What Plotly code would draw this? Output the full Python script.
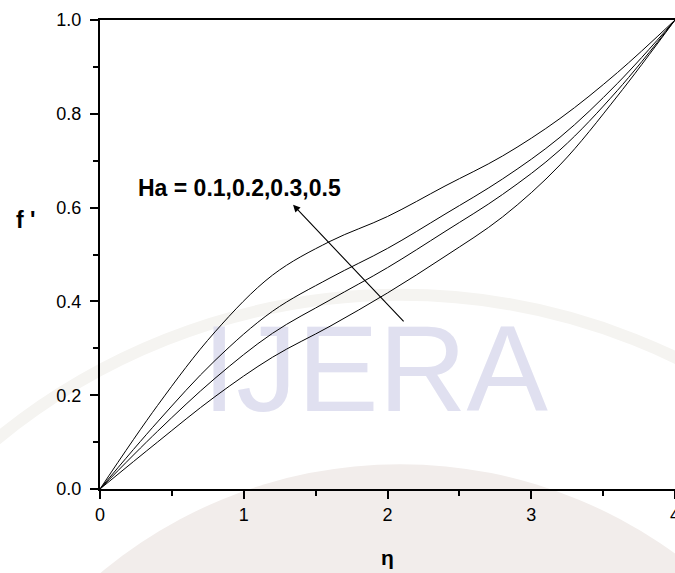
import plotly.graph_objects as go

# Similarity variable and velocity profiles f'(eta) for several Hartmann numbers
eta = [0.0, 0.4, 0.8, 1.2, 1.6, 2.0, 2.4, 2.8, 3.2, 3.6, 4.0]
f_ha_05 = [0.0, 0.178, 0.335, 0.456, 0.528, 0.581, 0.646, 0.710, 0.790, 0.888, 1.0]
f_ha_03 = [0.0, 0.143, 0.274, 0.379, 0.450, 0.513, 0.586, 0.661, 0.750, 0.865, 1.0]
f_ha_02 = [0.0, 0.123, 0.236, 0.332, 0.403, 0.472, 0.549, 0.628, 0.723, 0.850, 1.0]
f_ha_01 = [0.0, 0.100, 0.197, 0.281, 0.347, 0.418, 0.496, 0.580, 0.691, 0.838, 1.0]

profiles = [("Ha = 0.5", f_ha_05), ("Ha = 0.3", f_ha_03),
            ("Ha = 0.2", f_ha_02), ("Ha = 0.1", f_ha_01)]

x_ticks = [0, 1, 2, 3, 4]
y_ticks = [0.0, 0.2, 0.4, 0.6, 0.8, 1.0]
ha_label = "Ha = 0.1,0.2,0.3,0.5"

font_family = "Liberation Sans, Arial, sans-serif"

fig = go.Figure()

# journal watermark behind the curves
fig.add_trace(go.Scatter(
    x=[1.914], y=[0.232], mode="text", text=["IJERA"],
    textfont=dict(family=font_family, size=122, color="rgb(224,224,240)"),
    hoverinfo="skip", showlegend=False, cliponaxis=False,
))

for name, f in profiles:
    fig.add_trace(go.Scatter(
        x=eta, y=f, mode="lines", name=name,
        line=dict(color="black", width=1.0, shape="spline", smoothing=1.0),
        showlegend=False, cliponaxis=False,
    ))

# faint globe motif of the watermark
fig.add_shape(type="circle", xref="paper", yref="paper", layer="below",
              x0=-0.29, x1=1.334, y0=-1.938, y1=0.053,
              fillcolor="rgb(242,237,235)", line=dict(width=0))
fig.add_shape(type="circle", xref="paper", yref="paper", layer="below",
              x0=-0.584, x1=1.628, y0=-2.298, y1=0.414,
              fillcolor="rgba(0,0,0,0)", line=dict(color="rgb(245,244,241)", width=12))

axis_common = dict(
    showline=True, linecolor="black", linewidth=2,
    ticks="outside", tickcolor="black", tickwidth=1.5, ticklen=8,
    showgrid=False, zeroline=False,
    tickfont=dict(family=font_family, size=18, color="black"),
)

fig.update_xaxes(
    range=[0, 4], tickvals=x_ticks, ticktext=[str(v) for v in x_ticks],
    mirror=True, ticklabelstandoff=0, ticklabeloverflow="allow",
    minor=dict(ticks="outside", ticklen=5, tickcolor="black", tickwidth=1.5, dtick=0.5),
    **axis_common,
)
fig.update_yaxes(
    range=[0, 1], tickvals=y_ticks, ticktext=[f"{v:.1f}" for v in y_ticks],
    ticklabelstandoff=5,
    minor=dict(ticks="outside", ticklen=5, tickcolor="black", tickwidth=1.5, dtick=0.1),
    **axis_common,
)

# parameter label with arrow showing increasing Ha
fig.add_annotation(
    x=0.967, y=0.642, xref="x", yref="y", text=ha_label, showarrow=False,
    font=dict(family=font_family, size=23, color="black", weight="bold"),
)
fig.add_annotation(
    x=1.343, y=0.606, ax=2.122, ay=0.354, xref="x", yref="y", axref="x", ayref="y",
    text="", showarrow=True, arrowhead=2, arrowsize=1.3, arrowwidth=1.1, arrowcolor="black",
)

# axis titles
fig.add_annotation(
    x=-0.129, y=0.573, xref="paper", yref="y", text="f '", showarrow=False,
    xanchor="center", yanchor="middle",
    font=dict(family=font_family, size=23, color="black", weight="bold"),
)
fig.add_annotation(
    x=2.0, y=-0.145, xref="x", yref="paper", text="η", showarrow=False,
    xanchor="center", yanchor="middle",
    font=dict(family=font_family, size=21, color="black", weight="bold"),
)

fig.update_layout(
    width=675, height=573,
    margin=dict(l=100, r=0, t=20, b=84, autoexpand=False),
    paper_bgcolor="white", plot_bgcolor="rgba(0,0,0,0)",
    showlegend=False,
)

fig.write_html("out.html")
